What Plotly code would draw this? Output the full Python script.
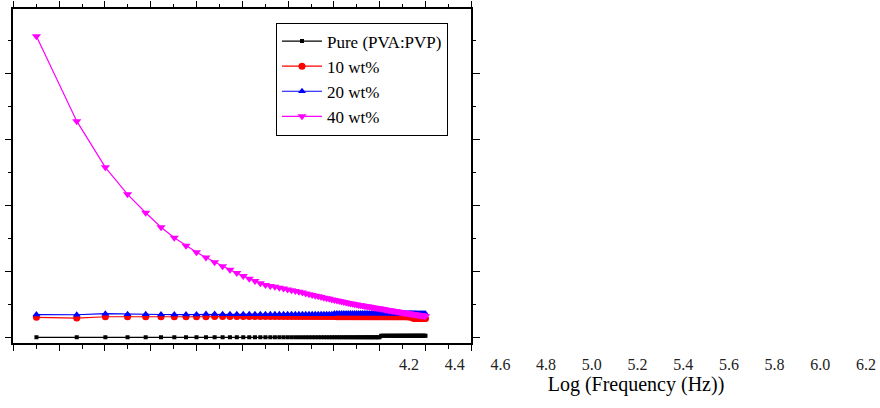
import plotly.graph_objects as go

W, H = 880, 408

freq_hz = [
    200, 300, 400, 500, 600, 700, 800, 900, 1000, 1100,
    1200, 1300, 1400, 1500, 1600, 1700, 1800, 1900, 2000, 2100,
    2200, 2300, 2400, 2500, 2600, 2700, 2800, 2900, 3000, 3100,
    3200, 3300, 3400, 3500, 3600, 3700, 3800, 3900, 4000, 4100,
    4200, 4300, 4400, 4500, 4600, 4700, 4800, 4900, 5000, 5100,
    5200, 5300, 5400, 5500, 5600, 5700, 5800, 5900, 6000, 6100,
    6200, 6300, 6400, 6500, 6600, 6700, 6800, 6900, 7000, 7100,
    7200, 7300, 7400, 7500, 7600, 7700, 7800, 7900, 8000, 8100,
    8200, 8300, 8400, 8500, 8600, 8700, 8800, 8900, 9000, 9100,
    9200, 9300, 9400, 9500, 9600, 9700, 9800, 9900, 10000,
]

pure_vals = [
    0, 0, 0, 0, 0, 0, 0, 0, 0, 0,
    0, 0, 0, 0, 0, 0, 0, 0, 0, 0,
    0, 0, 0, 0, 0, 0, 0, 0, 0, 0,
    0, 0, 0, 0, 0, 0, 0, 0, 0, 0,
    0, 0, 0, 0, 0, 0, 0, 0, 0, 0,
    0, 0, 0, 0, 0, 0, 0, 0, 0, 0,
    0, 0, 0.25, 0.25, 0.25, 0.25, 0.25, 0.25, 0.25, 0.25,
    0.25, 0.25, 0.25, 0.25, 0.25, 0.25, 0.25, 0.25, 0.25, 0.25,
    0.25, 0.25, 0.25, 0.25, 0.25, 0.25, 0.25, 0.25, 0.25, 0.25,
    0.25, 0.25, 0.25, 0.25, 0.25, 0.25, 0.25, 0.25, 0.25,
]

wt10_vals = [
    3.03, 2.92, 3.12, 3.10, 3.12, 3.12, 3.12, 3.12, 3.13, 3.12,
    3.14, 3.14, 3.14, 3.14, 3.14, 3.14, 3.14, 3.14, 3.14, 3.14,
    3.14, 3.14, 3.14, 3.14, 3.14, 3.14, 3.14, 3.14, 3.14, 3.14,
    3.14, 3.14, 3.14, 3.14, 3.14, 3.14, 3.14, 3.14, 3.14, 3.10,
    3.10, 3.10, 3.10, 3.10, 3.10, 3.10, 3.10, 3.10, 3.10, 3.10,
    3.10, 3.10, 3.10, 3.10, 3.10, 3.10, 3.10, 3.10, 3.10, 3.10,
    3.10, 3.10, 3.10, 3.10, 3.10, 3.10, 3.10, 3.10, 3.10, 3.10,
    3.10, 3.10, 3.10, 3.10, 3.10, 3.10, 3.10, 3.10, 3.10, 3.10,
    3.10, 3.10, 3.10, 3.08, 3.08, 3.05, 2.95, 2.85, 2.85, 2.85,
    2.85, 2.85, 2.85, 2.85, 2.85, 2.85, 2.85, 2.85, 2.85,
]

wt20_vals = [
    3.45, 3.42, 3.58, 3.50, 3.48, 3.46, 3.45, 3.45, 3.45, 3.55,
    3.55, 3.50, 3.50, 3.48, 3.48, 3.48, 3.48, 3.48, 3.48, 3.48,
    3.48, 3.48, 3.48, 3.48, 3.48, 3.48, 3.48, 3.48, 3.48, 3.48,
    3.48, 3.48, 3.48, 3.48, 3.48, 3.48, 3.48, 3.48, 3.62, 3.62,
    3.62, 3.62, 3.62, 3.62, 3.62, 3.62, 3.62, 3.62, 3.62, 3.62,
    3.62, 3.62, 3.62, 3.62, 3.62, 3.62, 3.62, 3.62, 3.62, 3.62,
    3.60, 3.60, 3.60, 3.60, 3.60, 3.60, 3.60, 3.60, 3.60, 3.60,
    3.60, 3.60, 3.60, 3.60, 3.60, 3.60, 3.60, 3.60, 3.60, 3.60,
    3.60, 3.60, 3.60, 3.60, 3.60, 3.60, 3.60, 3.60, 3.60, 3.60,
    3.58, 3.58, 3.58, 3.58, 3.58, 3.58, 3.58, 3.58, 3.58,
]

wt40_vals = [
    45.7, 32.8, 25.8, 21.7, 18.9, 16.7, 15.1, 13.9, 12.9, 12.1,
    11.4, 10.8, 10.25, 9.75, 9.3, 8.9, 8.55, 8.22, 7.94, 7.8,
    7.66, 7.52, 7.39, 7.26, 7.13, 7.01, 6.9, 6.78, 6.65, 6.54,
    6.43, 6.32, 6.22, 6.12, 6.02, 5.93, 5.84, 5.75, 5.66, 5.58,
    5.5, 5.42, 5.35, 5.28, 5.21, 5.14, 5.08, 5.02, 4.96, 4.91,
    4.86, 4.81, 4.76, 4.71, 4.66, 4.62, 4.57, 4.53, 4.49, 4.45,
    4.41, 4.37, 4.33, 4.28, 4.24, 4.2, 4.16, 4.12, 4.08, 4.05,
    4.01, 3.98, 3.94, 3.91, 3.87, 3.84, 3.81, 3.77, 3.74, 3.71,
    3.68, 3.66, 3.63, 3.6, 3.57, 3.55, 3.52, 3.49, 3.46, 3.44,
    3.41, 3.39, 3.36, 3.34, 3.32, 3.29, 3.27, 3.25, 3.22,
]

series_names = ["Pure (PVA:PVP)", "10 wt%", "20 wt%", "40 wt%"]
series_vals = [pure_vals, wt10_vals, wt20_vals, wt40_vals]
series_colors = ["#000000", "#FF0000", "#0000FF", "#FF00FF"]
series_symbols = ["square", "circle", "triangle-up", "triangle-down"]
series_sizes = [4, 7, 7, 8]

label_ticks = [4.2, 4.4, 4.6, 4.8, 5.0, 5.2, 5.4, 5.6, 5.8, 6.0, 6.2]
label_text = ["4.2", "4.4", "4.6", "4.8", "5.0", "5.2", "5.4", "5.6", "5.8", "6.0", "6.2"]
x_title = "Log (Frequency (Hz))"

FONT = "Liberation Serif, Times New Roman, serif"


def px_x(p):
    return p / W


def px_y(p):
    return 1 - p / H


fig = go.Figure()
for name, vals, col, sym, sz in zip(series_names, series_vals, series_colors,
                                    series_symbols, series_sizes):
    fig.add_trace(go.Scatter(
        x=freq_hz, y=vals, name=name, mode="lines+markers",
        line=dict(color=col, width=1.2),
        marker=dict(color=col, symbol=sym, size=sz, line=dict(width=0)),
        xaxis="x", yaxis="y",
    ))

# empty trace so the label-axis subplot gets drawn
fig.add_trace(go.Scatter(x=[], y=[], xaxis="x2", yaxis="y2",
                         showlegend=False, hoverinfo="skip"))

# label axis geometry (pixels)
lab_left_px, lab_right_px = 392.0, 880.0
px_per_unit = 228.5
lab_ref_px = 409.0
lab_r0 = 4.2 + (lab_left_px - lab_ref_px) / px_per_unit
lab_r1 = 4.2 + (lab_right_px - lab_ref_px) / px_per_unit

fig.update_layout(
    width=W, height=H,
    margin=dict(l=0, r=0, t=0, b=0),
    paper_bgcolor="white",
    plot_bgcolor="rgba(0,0,0,0)",
    font=dict(family=FONT, color="#000"),
    showlegend=True,
    legend=dict(
        x=px_x(276), y=px_y(22.5), xanchor="left", yanchor="top",
        bordercolor="#000", borderwidth=1, bgcolor="white",
        font=dict(family=FONT, size=17, color="#000"),
        tracegroupgap=0, itemwidth=40,
    ),
    xaxis=dict(
        type="log",
        domain=[px_x(13.3), px_x(471.3)],
        range=[2.2, 4.2],
        tick0=0, dtick=0.2,
        ticks="outside", ticklen=6, tickwidth=1.2, tickcolor="#000",
        minor=dict(dtick=0.1, ticks="outside", ticklen=3.5, tickwidth=1.2, tickcolor="#000"),
        showticklabels=False,
        showline=True, linecolor="#000", linewidth=1.5, mirror="ticks",
        showgrid=False, zeroline=False,
        anchor="y",
    ),
    yaxis=dict(
        domain=[px_y(343.3), px_y(9)],
        range=[-0.91, 49.82],
        tick0=0, dtick=10,
        ticks="outside", ticklen=6.5, tickwidth=1.2, tickcolor="#000",
        minor=dict(dtick=5, ticks="outside", ticklen=3.3, tickwidth=1.2, tickcolor="#000"),
        showticklabels=False,
        showline=True, linecolor="#000", linewidth=1.5, mirror="ticks",
        showgrid=False, zeroline=False,
        anchor="x",
    ),
    xaxis2=dict(
        domain=[px_x(lab_left_px), px_x(lab_right_px)],
        range=[lab_r0, lab_r1],
        tickmode="array", tickvals=label_ticks, ticktext=label_text,
        ticks="", showline=False, showgrid=False, zeroline=False,
        tickfont=dict(family=FONT, size=16, color="#222"),
        title=dict(text=x_title, font=dict(family=FONT, size=20, color="#000"), standoff=4),
        anchor="y2",
    ),
    yaxis2=dict(
        domain=[px_y(353), 1],
        range=[0, 1],
        showticklabels=False, showline=False, showgrid=False,
        zeroline=False, ticks="",
        anchor="x2",
    ),
)

fig.write_html(
    "out.html",
    config={"displayModeBar": False},
    post_script="document.body.style.margin='0px';document.body.style.overflow='hidden';",
)
